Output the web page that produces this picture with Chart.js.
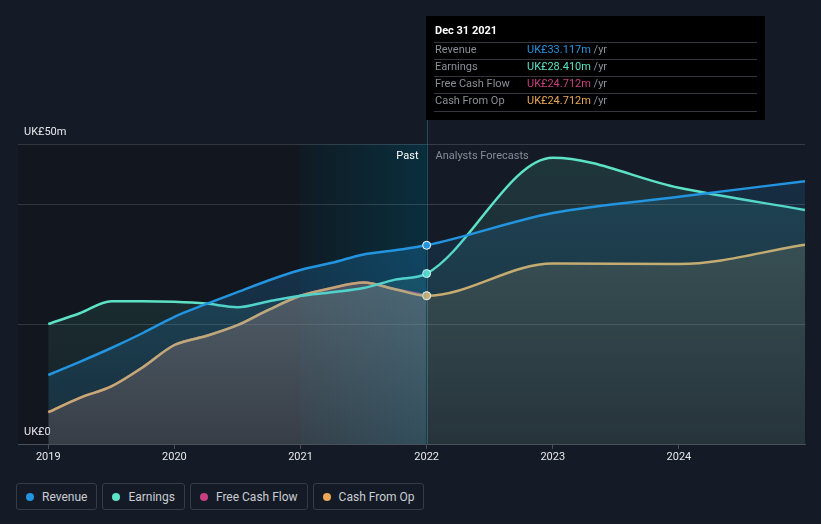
<!DOCTYPE html>
<html>
<head>
<meta charset="utf-8">
<script src="https://cdn.jsdelivr.net/npm/chart.js@4/dist/chart.umd.min.js"></script>
<style>
  html, body { margin: 0; padding: 0; background: #151b26; }
  #wrap { position: relative; width: 821px; height: 524px; overflow: hidden; }
  #c { position: absolute; left: 0; top: 0; }
  #legend { position: absolute; left: 16px; top: 483px; display: flex; gap: 5px; }
  .item { display: flex; align-items: center; height: 25px; padding: 0 9px 0 9px; border: 1px solid #363b46;
          border-radius: 3px; color: #c9ccd2; font: 12px Roboto, sans-serif; }
  .dot { width: 8px; height: 8px; border-radius: 50%; margin-right: 8px; }
</style>
</head>
<body>
<div id="wrap">
  <canvas id="c" width="821" height="470"></canvas>
  <div id="legend"></div>
</div>
<script>
"use strict";

/* ── data (UK£m) ─────────────────────────────────────────────── */
const DATES = [2019, 2019.25, 2019.5, 2019.75, 2020, 2020.25, 2020.5, 2020.75,
               2021, 2021.25, 2021.5, 2021.75, 2022, 2023, 2024, 2025];
const REVENUE  = [11.5, 13.7, 16.0, 18.5, 21.2, 23.3, 25.3, 27.3, 29.0, 30.2, 31.6, 32.3, 33.117, 38.5, 41.2, 43.8];
const EARNINGS = [20.0, 21.8, 23.8, 23.8, 23.7, 23.4, 22.8, 23.8, 24.7, 25.3, 26.0, 27.4, 28.410, 47.7, 42.7, 39.0];
const FCF      = [5.3, 7.7, 9.6, 12.8, 16.5, 18.0, 19.8, 22.4, 24.7, 26.0, 26.9, 25.8, 24.712];
const CFO      = [5.3, 7.7, 9.6, 12.8, 16.5, 18.0, 19.8, 22.4, 24.7, 26.0, 26.9, 25.8, 24.712, 30.1, 30.0, 33.2];

const SERIES = ["Revenue", "Earnings", "Free Cash Flow", "Cash From Op"];
const X_TICKS = [2019, 2020, 2021, 2022, 2023, 2024];
const Y_TICKS = [0, 20, 40, 50];
const PAST_END = 2022;
const BAND_START = 2021;
const TIP_DATE = "Dec 31 2021";

const COLORS = ["#2394df", "#5de2c5", "#c6407f", "#eaa957"];
const RGB = ["35,148,223", "93,226,197", "198,64,127", "234,169,87"];

/* ── helpers ─────────────────────────────────────────────────── */
const gradCache = {};
function grad(chart, key, rgb, a) {
  const area = chart.chartArea;
  const k = key + "|" + area.top + "|" + area.bottom;
  if (!gradCache[k]) {
    const g = chart.ctx.createLinearGradient(0, area.top, 0, area.bottom);
    g.addColorStop(0, `rgba(${rgb},${a})`);
    g.addColorStop(1, `rgba(${rgb},${(a * 0.35).toFixed(3)})`);
    gradCache[k] = g;
  }
  return gradCache[k];
}

function series(i, values, pastA, foreA) {
  return {
    label: SERIES[i],
    data: values.map((v, j) => ({ x: DATES[j], y: v })),
    borderColor: COLORS[i],
    borderWidth: 2.5,
    backgroundColor: `rgba(${RGB[i]},${pastA})`,
    fill: "origin",
    cubicInterpolationMode: "monotone",
    pointRadius: (c) => (DATES[c.dataIndex] === PAST_END ? 4 : 0),
    pointHoverRadius: 0,
    pointBackgroundColor: COLORS[i],
    pointBorderColor: "#ffffff",
    pointBorderWidth: 1,
    segment: {
      backgroundColor: (c) => {
        if (!c.chart.chartArea) return undefined;
        const past = c.p0.parsed.x < PAST_END;
        return grad(c.chart, i + (past ? "p" : "f"), RGB[i], past ? pastA : foreA);
      },
    },
  };
}

/* ── backgrounds, hover line, labels, tooltip ────────────────── */
const decor = {
  id: "decor",
  beforeDraw(chart) {
    const { ctx, chartArea: a, scales: { x } } = chart;
    const x1 = x.getPixelForValue(BAND_START), x2 = x.getPixelForValue(PAST_END);
    ctx.save();
    ctx.fillStyle = "#12161e";
    ctx.fillRect(a.left, a.top, x1 - a.left, a.bottom - a.top);
    const g = ctx.createLinearGradient(x1, 0, x2, 0);
    g.addColorStop(0, "#0f1b24");
    g.addColorStop(1, "#0a2e3d");
    ctx.fillStyle = g;
    ctx.fillRect(x1, a.top, x2 - x1, a.bottom - a.top);
    ctx.restore();
  },
  beforeDatasetsDraw(chart) {
    const { ctx, chartArea: a, scales: { x } } = chart;
    const x2 = Math.round(x.getPixelForValue(PAST_END)) + 0.5;
    ctx.save();
    ctx.strokeStyle = "rgba(40,120,150,0.55)";
    ctx.lineWidth = 1;
    ctx.beginPath(); ctx.moveTo(x2, 119); ctx.lineTo(x2, a.bottom); ctx.stroke();
    ctx.font = "11px Roboto, sans-serif";
    ctx.textBaseline = "middle";
    ctx.fillStyle = "#ffffff"; ctx.textAlign = "right";
    ctx.fillText("Past", x2 - 9, a.top + 12);
    ctx.fillStyle = "#878c96"; ctx.textAlign = "left";
    ctx.fillText("Analysts Forecasts", x2 + 8, a.top + 12);
    ctx.restore();
  },
  afterDraw(chart) {
    const { ctx, scales: { x } } = chart;
    const bx = Math.round(x.getPixelForValue(PAST_END)) - 1, by = 16, bw = 339, bh = 104;
    const idx = DATES.indexOf(PAST_END);
    const vals = [REVENUE[idx], EARNINGS[idx], FCF[idx], CFO[idx]];
    ctx.save();
    ctx.fillStyle = "#000000";
    ctx.fillRect(bx, by, bw, bh);
    ctx.textBaseline = "middle";
    ctx.font = "bold 11px Roboto, sans-serif";
    ctx.fillStyle = "#ffffff";
    ctx.fillText(TIP_DATE, bx + 9, by + 15);
    ctx.strokeStyle = "#33363c";
    const rows = [42, 59, 76, 93, 111];
    rows.forEach((ry) => {
      ctx.beginPath(); ctx.moveTo(bx + 8, ry + 0.5); ctx.lineTo(bx + bw - 8, ry + 0.5); ctx.stroke();
    });
    ctx.font = "11px Roboto, sans-serif";
    SERIES.forEach((name, i) => {
      const cy = rows[i] + 8.5;
      ctx.fillStyle = "#8b8f96";
      ctx.fillText(name, bx + 9, cy);
      const v = `UK£${vals[i].toFixed(3)}m`;
      ctx.fillStyle = COLORS[i];
      ctx.fillText(v, bx + 101, cy);
      const w = ctx.measureText(v).width;
      ctx.fillStyle = "#8b8f96";
      ctx.fillText(" /yr", bx + 101 + w, cy);
    });
    ctx.restore();
  },
};

Chart.defaults.font.family = "Roboto, sans-serif";

new Chart(document.getElementById("c"), {
  type: "line",
  data: {
    // lower index is drawn on top: Cash From Op sits over Free Cash Flow
    datasets: [
      series(0, REVENUE, 0.30, 0.17),
      series(1, EARNINGS, 0.16, 0.14),
      series(3, CFO, 0.30, 0.20),
      series(2, FCF, 0.26, 0.12),
    ],
  },
  options: {
    responsive: false,
    animation: false,
    events: [],
    layout: { padding: { left: 18, right: 16, top: 144, bottom: 0 } },
    scales: {
      x: {
        type: "linear", min: 2018.76, max: 2025,
        afterBuildTicks: (s) => { s.ticks = X_TICKS.map((v) => ({ value: v })); },
        afterFit: (s) => { s.height = 26; },
        grid: { drawOnChartArea: false, tickLength: 5, color: "#4a4f58" },
        border: { color: "#4a4f58" },
        ticks: { color: "#e6e8ec", font: { size: 11 }, padding: 2, callback: (v) => String(v) },
      },
      y: {
        min: 0, max: 50,
        afterBuildTicks: (s) => { s.ticks = Y_TICKS.map((v) => ({ value: v })); },
        afterFit: (s) => { s.width = 0; },
        grid: { color: "rgba(255,255,255,0.14)", drawTicks: false },
        border: { display: false },
        ticks: {
          mirror: true, padding: 6, labelOffset: -12, color: "#e6e8ec", font: { size: 11 },
          callback: (v) => (v === 0 ? "UK£0" : v === 50 ? "UK£50m" : ""),
        },
      },
    },
    plugins: { legend: { display: false }, tooltip: { enabled: false } },
  },
  plugins: [decor],
});

/* ── legend ──────────────────────────────────────────────────── */
const lg = document.getElementById("legend");
SERIES.forEach((name, i) => {
  const el = document.createElement("div");
  el.className = "item";
  el.innerHTML = `<span class="dot" style="background:${COLORS[i]}"></span>${name}`;
  lg.appendChild(el);
});
</script>
</body>
</html>
